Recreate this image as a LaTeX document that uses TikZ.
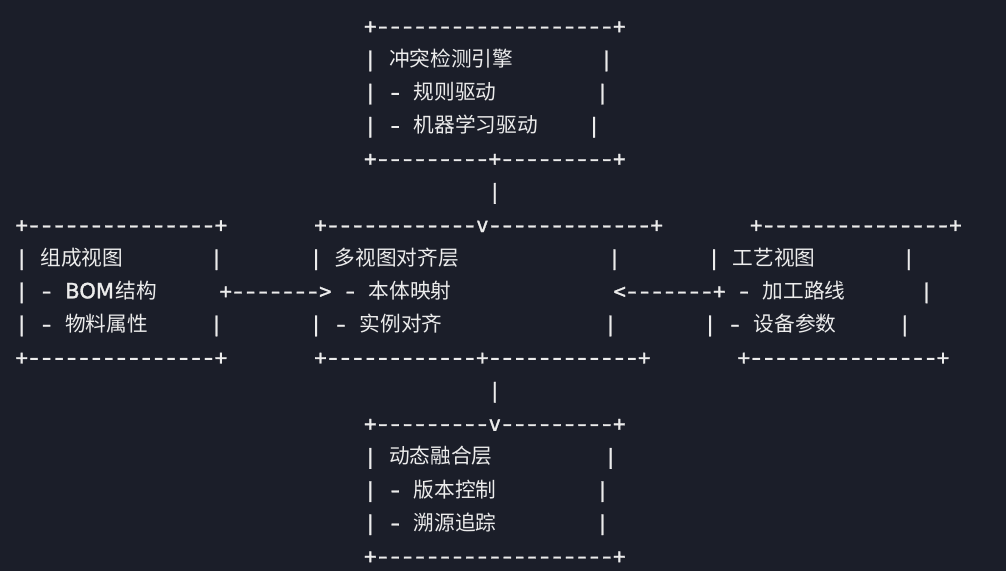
\documentclass[tikz,border=0pt]{standalone}
\usepackage{fontspec}
\usepackage{graphicx}
\setmonofont{DejaVu Sans Mono}[FakeBold=1.2]
\newfontfamily\cjk{Noto Sans CJK SC}
\newfontfamily\bomfont{DejaVu Sans}[FakeBold=1.5]
\definecolor{bg}{HTML}{1B1E29}
\definecolor{fg}{HTML}{ECECEC}
\newlength\cw \setlength\cw{12.45pt}
\newcommand\gap[1]{\hspace*{#1\cw}}
\newcommand\cj[1]{{\cjk #1}}
\newcommand\onedash{\makebox[\cw][c]{\scalebox{1.35}[1]{-}}}
\newcount\dcnt
\newcommand\dd[1]{\dcnt=#1\relax\ddloop}
\def\ddloop{\ifnum\dcnt>0 \onedash\advance\dcnt-1 \expandafter\ddloop\fi}
\frenchspacing
\begin{document}
\begin{tikzpicture}[x=1pt,y=-1pt,
  asciirow/.style={anchor=base west, inner sep=0pt, outer sep=0pt, text=fg,
    font=\ttfamily\fontsize{20.68pt}{24pt}\selectfont}]
\fill[bg] (0,0) rectangle (1006,571);
\useasboundingbox (0,0) rectangle (1006,571);
% top box
\node[asciirow] (r0) at (364.1,33.3) {+\dd{19}+};
\node[asciirow] (r1) at (364.1,66.4) {|\gap{1}\cj{冲突检测引擎}\gap{7}|};
\node[asciirow] (r2) at (364.1,99.6) {|\gap{1}\dd{1}\gap{1}\cj{规则驱动}\gap{8}|};
\node[asciirow] (r3) at (364.1,132.7) {|\gap{1}\dd{1}\gap{1}\cj{机器学习驱动}\gap{4}|};
\node[asciirow] (r4) at (364.1,165.8) {+\dd{9}+\dd{9}+};
\node[asciirow] (r5) at (488.6,198.9) {|};
% middle row of boxes
\node[asciirow] (r6) at (15.5,232.1) {+\dd{15}+\gap{7}+\dd{12}v\dd{13}+\gap{7}+\dd{15}+};
\node[asciirow] (r7) at (15.5,265.2) {|\gap{1}\cj{组成视图}\gap{7}|\gap{7}|\gap{1}\cj{多视图对齐层}\gap{12}|\gap{7}|\gap{1}\cj{工艺视图}\gap{7}|};
\node[asciirow] (r8) at (15.5,298.3) {|\gap{1}\dd{1}\gap{1}\makebox[50.6pt][l]{\bomfont\fontsize{21pt}{24pt}\selectfont BOM}\cj{结构}\gap{5}+\dd{7}>\gap{1}\dd{1}\gap{1}\cj{本体映射}\gap{13}<\dd{7}+\gap{1}\dd{1}\gap{1}\cj{加工路线}\gap{6}|};
\node[asciirow] (r9) at (15.5,331.4) {|\gap{1}\dd{1}\gap{1}\cj{物料属性}\gap{5}|\gap{7}|\gap{1}\dd{1}\gap{1}\cj{实例对齐}\gap{13}|\gap{7}|\gap{1}\dd{1}\gap{1}\cj{设备参数}\gap{5}|};
\node[asciirow] (r10) at (15.5,364.6) {+\dd{15}+\gap{7}+\dd{12}+\dd{12}+\gap{7}+\dd{15}+};
\node[asciirow] (r11) at (488.6,397.7) {|};
% bottom box
\node[asciirow] (r12) at (364.1,430.8) {+\dd{9}v\dd{9}+};
\node[asciirow] (r13) at (364.1,463.9) {|\gap{1}\cj{动态融合层}\gap{9}|};
\node[asciirow] (r14) at (364.1,497.1) {|\gap{1}\dd{1}\gap{1}\cj{版本控制}\gap{8}|};
\node[asciirow] (r15) at (364.1,530.2) {|\gap{1}\dd{1}\gap{1}\cj{溯源追踪}\gap{8}|};
\node[asciirow] (r16) at (364.1,563.3) {+\dd{19}+};
\end{tikzpicture}
\end{document}
